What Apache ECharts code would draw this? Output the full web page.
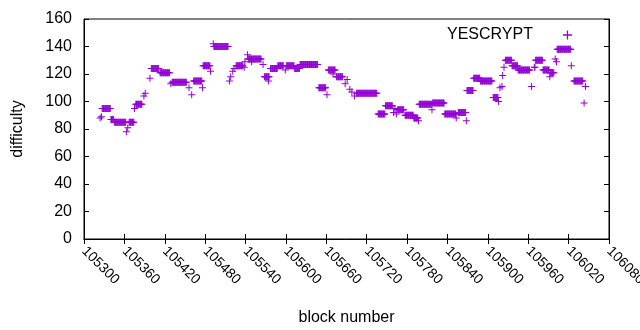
<!DOCTYPE html>
<html>
<head>
<meta charset="utf-8">
<script src="https://cdn.jsdelivr.net/npm/echarts@6/dist/echarts.min.js"></script>
<style>
  html, body { margin: 0; padding: 0; background: #fff; }
  #chart { width: 640px; height: 330px; }
</style>
</head>
<body>
<div id="chart"></div>
<script>
// x axis ticks (block number)
const xMin = 105300;
const xMax = 106080;
const xStep = 60;
// y axis ticks (difficulty)
const yMin = 0;
const yMax = 160;
const yStep = 20;

// runs of blocks sharing the same difficulty: [first block, last block, difficulty]
const runs = [
  [105324, 105324, 88], [105326, 105326, 89], [105327, 105339, 95], [105340, 105344, 87],
  [105345, 105362, 85], [105363, 105363, 78], [105365, 105365, 81], [105367, 105374, 85],
  [105375, 105375, 95], [105377, 105386, 98], [105389, 105389, 104], [105391, 105391, 106],
  [105398, 105398, 117], [105400, 105411, 124], [105413, 105427, 121], [105429, 105429, 113],
  [105431, 105452, 114], [105456, 105456, 110], [105460, 105460, 105], [105463, 105475, 115],
  [105476, 105476, 110], [105477, 105487, 126], [105488, 105488, 122], [105492, 105492, 142],
  [105493, 105514, 140], [105516, 105516, 115], [105518, 105518, 118], [105521, 105521, 122],
  [105523, 105523, 124], [105526, 105536, 126], [105538, 105538, 125], [105539, 105539, 129],
  [105543, 105543, 134], [105544, 105563, 131], [105549, 105549, 129], [105566, 105566, 127],
  [105568, 105575, 118], [105574, 105574, 115], [105577, 105587, 124], [105588, 105596, 126],
  [105599, 105599, 123], [105601, 105612, 126], [105613, 105620, 124], [105621, 105647, 127],
  [105649, 105659, 110], [105661, 105661, 105], [105663, 105673, 123], [105670, 105670, 120],
  [105675, 105684, 118], [105688, 105688, 113], [105691, 105691, 116], [105695, 105695, 109],
  [105698, 105698, 107], [105702, 105702, 104], [105705, 105735, 106], [105737, 105747, 91],
  [105748, 105758, 97], [105760, 105760, 92], [105762, 105762, 95], [105764, 105764, 91],
  [105766, 105775, 94], [105777, 105789, 90], [105790, 105796, 88], [105797, 105797, 86],
  [105798, 105816, 98], [105817, 105817, 94], [105818, 105835, 99], [105836, 105852, 91],
  [105853, 105853, 88], [105856, 105867, 92], [105868, 105868, 86], [105869, 105878, 108],
  [105879, 105888, 117], [105889, 105906, 115], [105908, 105915, 103], [105916, 105916, 100],
  [105918, 105918, 110], [105921, 105921, 111], [105922, 105922, 119], [105924, 105924, 125],
  [105926, 105935, 130], [105936, 105944, 126], [105945, 105962, 123], [105965, 105965, 111],
  [105969, 105970, 125], [105971, 105981, 130], [105982, 105991, 123], [105992, 105992, 118],
  [105993, 105998, 121], [106000, 106000, 131], [106002, 106002, 129], [106003, 106023, 138],
  [106024, 106024, 126], [106028, 106041, 115], [106043, 106043, 99], [106045, 106045, 111]
];

// one point per block
let points = [];
runs.forEach(r => {
  for (let b = r[0]; b <= r[1]; b++) points.push([b, r[2]]);
});

const plus = 'path://M3,0H4V3H7V4H4V7H3V4H0V3H3Z';
const purple = '#9400d3';
const font = 'Liberation Sans, Arial, sans-serif';

const chart = echarts.init(document.getElementById('chart'), null, { renderer: 'canvas' });
chart.setOption({
  animation: false,
  grid: {
    left: 84, right: 31, top: 19, bottom: 91,
    containLabel: false, outerBoundsMode: 'none',
    show: true, borderColor: '#000', borderWidth: 1
  },
  legend: {
    data: ['YESCRYPT'],
    left: 442, top: 22,
    align: 'right',
    icon: plus,
    itemWidth: 9, itemHeight: 9,
    textStyle: { color: '#000', fontSize: 16, fontFamily: font, padding: [0, 25, 0, 0] }
  },
  xAxis: [{
    type: 'value', min: xMin, max: xMax, interval: xStep,
    name: 'block number', nameLocation: 'middle', nameGap: 71,
    nameTextStyle: { color: '#000', fontSize: 16, fontFamily: font },
    axisLine: { lineStyle: { color: '#000' } },
    axisTick: { inside: true, length: 5, lineStyle: { color: '#000' } },
    axisLabel: {
      rotate: -45, margin: 10, color: '#000', fontSize: 14, fontFamily: font,
      formatter: v => String(v)
    },
    splitLine: { show: false }
  }, {
    type: 'value', min: xMin, max: xMax, interval: xStep, position: 'top',
    axisLine: { lineStyle: { color: '#000' } },
    axisTick: { inside: true, length: 5, lineStyle: { color: '#000' } },
    axisLabel: { show: false },
    splitLine: { show: false }
  }],
  yAxis: [{
    type: 'value', min: yMin, max: yMax, interval: yStep,
    name: 'difficulty', nameLocation: 'middle', nameGap: 58,
    nameTextStyle: { color: '#000', fontSize: 16, fontFamily: font },
    axisLine: { show: true, lineStyle: { color: '#000' } },
    axisTick: { show: true, inside: true, length: 5, lineStyle: { color: '#000' } },
    axisLabel: { margin: 12, color: '#000', fontSize: 16, fontFamily: font },
    splitLine: { show: false }
  }, {
    type: 'value', min: yMin, max: yMax, interval: yStep, position: 'right',
    axisLine: { show: true, lineStyle: { color: '#000' } },
    axisTick: { show: true, inside: true, length: 5, lineStyle: { color: '#000' } },
    axisLabel: { show: false },
    splitLine: { show: false }
  }],
  series: [{
    name: 'YESCRYPT',
    type: 'scatter',
    data: points,
    symbol: plus,
    symbolSize: 7,
    itemStyle: { color: purple, opacity: 1 }
  }]
});
</script>
</body>
</html>
